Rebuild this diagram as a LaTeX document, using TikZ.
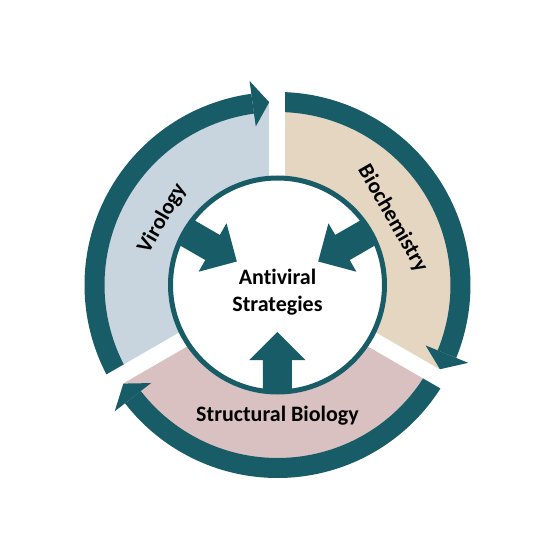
\documentclass[tikz,border=0pt]{standalone}
\usepackage{fontspec}
\setmainfont{Carlito}[Ligatures={NoCommon}]

\definecolor{Ring}{HTML}{185C67}
\definecolor{Viro}{HTML}{C8D5DE}
\definecolor{Bio}{HTML}{E5D6C1}
\definecolor{Struct}{HTML}{D9C1C1}

\begin{document}
\begin{tikzpicture}[x=1pt, y=1pt, every node/.style={font=\bfseries\fontsize{22}{26.5}\selectfont, text=black, inner sep=0pt}]

 \useasboundingbox (-277.5,-275) rectangle (262.5,285);

 %%%%%%%%%%%%%%%% SECTORS %%%%%%%%%%%%%%%%%%%%%%
 \coordinate (0) at (0,0);
 \fill [Viro] (0) -- (90:183) arc[start angle=90, end angle=210, radius=183] -- cycle;
 \fill [Bio] (0) -- (-30:183) arc[start angle=-30, end angle=90, radius=183] -- cycle;
 \fill [Struct] (0) -- (210:183) arc[start angle=210, end angle=330, radius=183] -- cycle;

 %%%%%%%%%%%%%%%% RING ARROWS %%%%%%%%%%%%%%%%%%
 % Virology band
 \fill [Ring] (210:193) arc[start angle=210, end angle=97.8, radius=193] -- (97.8:173) arc[start angle=97.8, end angle=210, radius=173] -- cycle;
 % Biochemistry band
 \fill [Ring] (90:193) arc[start angle=90, end angle=-22.2, radius=193] -- (-22.2:173) arc[start angle=-22.2, end angle=90, radius=173] -- cycle;
 % Structural Biology band
 \fill [Ring] (-30:193) arc[start angle=-30, end angle=-142.2, radius=193] -- (-142.2:173) arc[start angle=-142.2, end angle=-30, radius=173] -- cycle;

 % Gaps
 \draw [white, line width=16] (0) -- (90:220);
 \draw [white, line width=16] (0) -- (210:220);
 \draw [white, line width=16] (0) -- (-30:220);

 % Heads
 \fill [Ring] (97.8:206) -- (92.6:183) -- (97.8:160) -- cycle;
 \fill [Ring] (-22.2:206) -- (-27.4:183) -- (-22.2:160) -- cycle;
 \fill [Ring] (-142.2:206) -- (-147.4:183) -- (-142.2:160) -- cycle;

 %%%%%%%%%%%%%%%% CENTRE %%%%%%%%%%%%%%%%%%%%%%%
 \draw [Ring, line width=5, fill=white] (0) circle[radius=107];

 % Inner arrows
 \fill [Ring, rotate=150] (107,14.5) -- (75,14.5) -- (75,28) -- (47,0) -- (75,-28) -- (75,-14.5) -- (107,-14.5) -- cycle;
 \fill [Ring, rotate=30] (107,14.5) -- (75,14.5) -- (75,28) -- (47,0) -- (75,-28) -- (75,-14.5) -- (107,-14.5) -- cycle;
 \fill [Ring, rotate=270] (107,14.5) -- (75,14.5) -- (75,28) -- (47,0) -- (75,-28) -- (75,-14.5) -- (107,-14.5) -- cycle;

 %%%%%%%%%%%%%%%% LABELS %%%%%%%%%%%%%%%%%%%%%%%
 \node (goal) [align=center] at (0,-7) {Antiviral\\Strategies};
 \node (viro) [rotate=60] at (150:133) {Virology};
 \node (bio) [rotate=-60] at (30:133) {Biochemistry};
 \node (struct) at (270:131) {Structural Biology};

\end{tikzpicture}
\end{document}
